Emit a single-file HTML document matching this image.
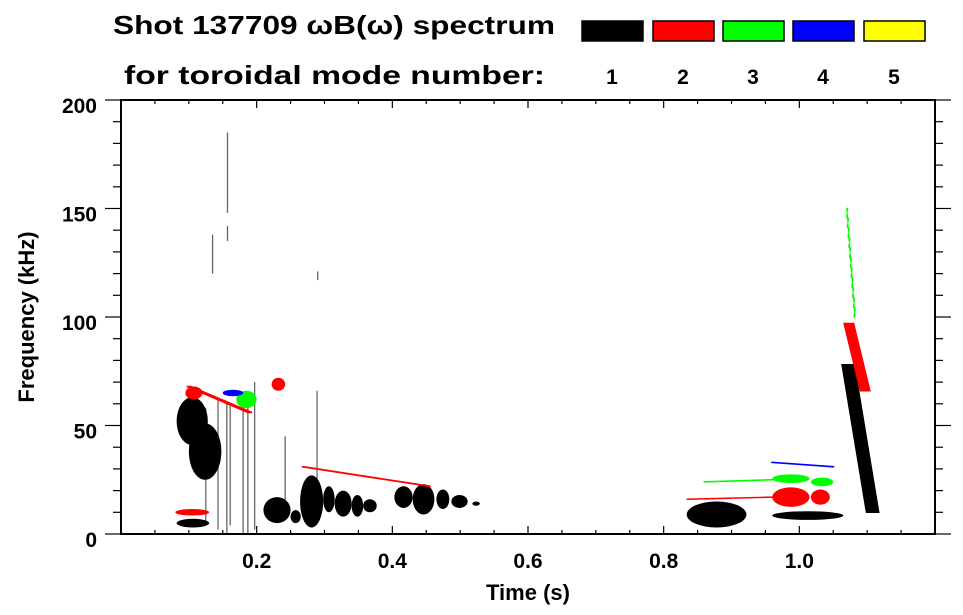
<!DOCTYPE html>
<html><head><meta charset="utf-8"><style>
html,body{margin:0;padding:0;background:#fff;}
svg{display:block;font-family:"Liberation Sans",Arial,sans-serif;font-weight:bold;}
</style></head><body>
<svg id="chart" width="963" height="615" viewBox="0 0 963 615" xmlns="http://www.w3.org/2000/svg">
<text x="113" y="34" font-size="26" textLength="442" lengthAdjust="spacingAndGlyphs">Shot 137709 ωB(ω) spectrum</text>
<text x="124" y="84" font-size="26" textLength="421" lengthAdjust="spacingAndGlyphs">for toroidal mode number:</text>
<g id="legend"></g>
<g id="marks"></g>
<g id="axes"></g>
<text x="528" y="600" font-size="22" text-anchor="middle">Time (s)</text>
<text x="0" y="0" font-size="22" text-anchor="middle" transform="translate(34,317) rotate(-90)">Frequency (kHz)</text>
</svg>
<script>
// ---- data ----
const modeNumbers = [1, 2, 3, 4, 5];
const modeColors = ["#000000", "#ff0000", "#00ff00", "#0000ff", "#ffff00"];
const xTicks = [0.2, 0.4, 0.6, 0.8, 1.0];
const xTickLabels = ["0.2", "0.4", "0.6", "0.8", "1.0"];
const yTicks = [0, 50, 100, 150, 200];
const yTickLabels = ["0", "50", "100", "150", "200"];
// blobs: mode, tStart, tEnd, fCenter, fHalfWidth
const blobMode  = [1,1,1,1,1, 1,1,1,1,1, 1,1,1,1,1, 1,1, 2,2, 3,3, 2,3,4, 2,2];
const blobT0    = [0.082,0.1,0.082,0.21,0.25, 0.264,0.298,0.315,0.340,0.357, 0.403,0.430,0.465,0.487,0.518, 0.834,0.96, 0.96,1.017, 0.96,1.017, 0.222,0.17,0.15, 0.08,0.095];
const blobT1    = [0.128,0.148,0.13,0.25,0.265, 0.298,0.315,0.340,0.357,0.377, 0.430,0.462,0.484,0.511,0.529, 0.922,1.065, 1.015,1.045, 1.015,1.05, 0.242,0.2,0.18, 0.13,0.12];
const blobF     = [52,38,5,11,8, 15,16,14,13,13, 17,16,16,15,14, 9,8.5, 17,17, 25.5,24, 69,62,65, 10,65];
const blobFHalf = [11,13,2,6,3, 12,6,6,5,3, 5,7,4.5,3,1, 6,2, 4.5,3.5, 2,2, 3,4,1.5, 1.5,3];
// chirps: mode, t0, f0, t1, f1, halfWidth (s)
const chirpMode = [2,2,3,4,1,2,3,2];
const chirpT0   = [0.268,0.835,0.86,0.96,1.072,1.073,1.07,0.10];
const chirpF0   = [31,16,24,33,78,97,150,68];
const chirpT1   = [0.455,0.96,0.96,1.05,1.108,1.097,1.082,0.19];
const chirpF1   = [22,17,25,31,10,66,100,56];
const chirpHalf = [0.0015,0.0012,0.0012,0.0015,0.009,0.007,0.0008,0.003];
// streaks: time, fLow, fHigh
const streakT  = [0.125,0.143,0.156,0.161,0.18,0.187,0.197,0.242,0.289,0.157,0.157,0.29,0.135];
const streakF0 = [5,2,0,4,0,0,2,8,12,135,148,117,120];
const streakF1 = [58,62,60,60,65,62,70,45,66,142,185,121,138];

// ---- scales ----
const X0 = 121, X1 = 935, Y0 = 534, Y1 = 100;
const xs = t => X0 + (t / 1.2) * (X1 - X0);
const ys = f => Y0 - (f / 200) * (Y0 - Y1);
const NS = "http://www.w3.org/2000/svg";
function mk(tag, attrs, parent) {
  const e = document.createElementNS(NS, tag);
  for (const k in attrs) e.setAttribute(k, attrs[k]);
  parent.appendChild(e);
  return e;
}
const marks = document.getElementById("marks");
const axes = document.getElementById("axes");
const legend = document.getElementById("legend");

// legend
const boxX = [582, 653, 723, 793, 864];
modeNumbers.forEach((m, i) => {
  const r = mk("rect", {x: boxX[i], y: 21, width: 61, height: 20, fill: modeColors[i], stroke: "#000", "stroke-width": 1.5}, legend);
  
  
  const t = mk("text", {x: boxX[i] + 30, y: 84, "font-size": 21, "text-anchor": "middle"}, legend);
  t.textContent = String(m);
  
  
});

// streaks
streakT.forEach((t, i) => {
  const l = mk("line", {x1: xs(t), x2: xs(t), y1: ys(streakF0[i]), y2: ys(streakF1[i]), stroke: "#666", "stroke-width": 1.3}, marks);
  
  
});
// blobs
blobMode.forEach((m, i) => {
  const cx = (xs(blobT0[i]) + xs(blobT1[i])) / 2;
  const rx = (xs(blobT1[i]) - xs(blobT0[i])) / 2;
  const ry = Math.abs(ys(blobF[i] + blobFHalf[i]) - ys(blobF[i]));
  const e = mk("ellipse", {cx: cx, cy: ys(blobF[i]), rx: rx, ry: ry, fill: modeColors[m - 1]}, marks);
  
  
});
// chirps
chirpMode.forEach((m, i) => {
  const a = xs(chirpT0[i]), b = xs(chirpT1[i]);
  const h = xs(chirpHalf[i]) - xs(0);
  const ya = ys(chirpF0[i]), yb = ys(chirpF1[i]);
  const pts = [[a - h, ya], [a + h, ya], [b + h, yb], [b - h, yb]];
  const attrs = {points: pts.map(q => q.join(",")).join(" "), fill: modeColors[m - 1], stroke: modeColors[m - 1], "stroke-width": 1.5};
  if (chirpHalf[i] < 0.001) attrs["stroke-dasharray"] = "4 6";
  const p = mk("polygon", attrs, marks);
  
  
});

// axes frame
mk("rect", {x: X0, y: Y1, width: X1 - X0, height: Y0 - Y1, fill: "none", stroke: "#000", "stroke-width": 2}, axes);
// x ticks (inside, top & bottom)
for (let k = 0; k <= 24; k++) {
  const t = k * 0.05, x = xs(t);
  const major = k % 4 === 0;
  const len = major ? 8 : 4;
  mk("line", {x1: x, x2: x, y1: Y0, y2: Y0 - len, stroke: "#000", "stroke-width": 1.2}, axes);
  mk("line", {x1: x, x2: x, y1: Y1, y2: Y1 + len, stroke: "#000", "stroke-width": 1.2}, axes);
}
xTicks.forEach((t, i) => {
  const tx = mk("text", {x: xs(t), y: 568, "font-size": 21, "text-anchor": "middle"}, axes);
  tx.textContent = xTickLabels[i];
  
  
});
// y ticks (outside, left & right)
for (let k = 0; k <= 20; k++) {
  const f = k * 10, y = ys(f);
  const len = k % 5 === 0 ? 16 : 8;
  mk("line", {x1: X0, x2: X0 - len, y1: y, y2: y, stroke: "#000", "stroke-width": 1.2}, axes);
  mk("line", {x1: X1, x2: X1 + len, y1: y, y2: y, stroke: "#000", "stroke-width": 1.2}, axes);
}
yTicks.forEach((f, i) => {
  const tx = mk("text", {x: 97, y: ys(f) + 13, "font-size": 21, "text-anchor": "end"}, axes);
  tx.textContent = yTickLabels[i];
  
  
});
</script>
</body></html>
